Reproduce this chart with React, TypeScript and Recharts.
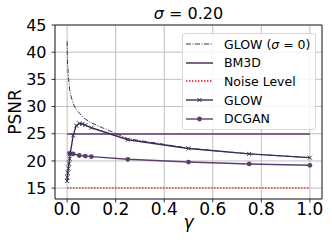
import React from "react";
import {
  LineChart,
  Line,
  XAxis,
  YAxis,
  CartesianGrid,
  ReferenceArea,
  Legend,
  Label,
} from "recharts";

// values
const gammaClean = [0, 0.001, 0.0025, 0.005, 0.0075, 0.01, 0.015, 0.025, 0.035, 0.05, 0.065, 0.075, 0.1, 0.15, 0.25, 0.5, 0.75, 1.0];
const psnrClean = [42.0, 39.5, 37.5, 35.8, 34.5, 33.2, 32.0, 30.6, 29.6, 28.8, 28.1, 27.7, 27.0, 26.0, 24.1, 22.35, 21.3, 20.6];

const gammaGlow = [0, 0.001, 0.0025, 0.005, 0.0075, 0.01, 0.0125, 0.025, 0.0375, 0.05, 0.0625, 0.075, 0.1, 0.25, 0.5, 0.75, 1.0];
const psnrGlow = [16.3, 17.0, 17.8, 18.6, 19.5, 20.4, 21.3, 24.7, 26.5, 26.9, 26.8, 26.6, 26.1, 23.9, 22.3, 21.3, 20.6];

const gammaDcgan = [0.01, 0.025, 0.05, 0.075, 0.1, 0.25, 0.5, 0.75, 1.0];
const psnrDcgan = [21.4, 21.3, 21.0, 20.9, 20.8, 20.3, 19.8, 19.45, 19.2];

const gammaEnds = [0, 1];
const bm3dPsnr = 24.95;
const noisePsnr = 15.05;

const xTicks = [0, 0.2, 0.4, 0.6, 0.8, 1.0];
const yTicks = [15, 20, 25, 30, 35, 40, 45];
const yMinorTicks = [13, 14, 16, 17, 18, 19, 21, 22, 23, 24, 26, 27, 28, 29, 31, 32, 33, 34, 36, 37, 38, 39, 41, 42, 43, 44];

const legendNames = ["clean", "bm3d", "noise", "glow", "dcgan"];

const toPoints = (xs: number[], ys: number[]) => xs.map((x, i) => ({ x, y: ys[i] }));
const cleanData = toPoints(gammaClean, psnrClean);
const glowData = toPoints(gammaGlow, psnrGlow);
const dcganData = toPoints(gammaDcgan, psnrDcgan);
const bm3dData = gammaEnds.map((x) => ({ x, y: bm3dPsnr }));
const noiseData = gammaEnds.map((x) => ({ x, y: noisePsnr }));

const FONT = "'DejaVu Sans', sans-serif";
const C_CLEAN = "#3b2f5e";
const C_BM3D = "#5d3a6e";
const C_GLOW = "#3a2e4e";
const C_DCGAN = "#5b3f6c";
const C_NOISE = "#ff0000";

const CrossDot = (props: any) => {
  const { cx, cy } = props;
  if (cx == null || cy == null) return null;
  const s = 2;
  return (
    <path
      key={`x-${cx}-${cy}`}
      d={`M${cx - s},${cy - s}L${cx + s},${cy + s}M${cx - s},${cy + s}L${cx + s},${cy - s}`}
      stroke={C_GLOW}
      strokeWidth={1}
      fill="none"
    />
  );
};

const sample = (name: string) => {
  switch (name) {
    case "clean":
      return <line x1={0} x2={27} y1={5} y2={5} stroke={C_CLEAN} strokeWidth={1} strokeDasharray="5 1.5 1 1.5" />;
    case "bm3d":
      return <line x1={0} x2={27} y1={5} y2={5} stroke={C_BM3D} strokeWidth={1.6} />;
    case "noise":
      return <line x1={0} x2={27} y1={5} y2={5} stroke={C_NOISE} strokeWidth={1.4} strokeDasharray="1.4 1.6" />;
    case "glow":
      return (
        <g>
          <line x1={0} x2={27} y1={5} y2={5} stroke={C_GLOW} strokeWidth={1.4} />
          <path d="M11.5,3L15.5,7M11.5,7L15.5,3" stroke={C_GLOW} strokeWidth={1} />
        </g>
      );
    default:
      return (
        <g>
          <line x1={0} x2={27} y1={5} y2={5} stroke={C_DCGAN} strokeWidth={1.4} />
          <circle cx={13.5} cy={5} r={2.4} fill={C_DCGAN} />
        </g>
      );
  }
};

const labelFor = (name: string) => {
  switch (name) {
    case "clean":
      return (
        <>
          GLOW (<i>σ</i> = 0)
        </>
      );
    case "bm3d":
      return "BM3D";
    case "noise":
      return "Noise Level";
    case "glow":
      return "GLOW";
    default:
      return "DCGAN";
  }
};

const LegendBox = () => (
  <div
    style={{
      width: 134,
      height: 97,
      boxSizing: "border-box",
      border: "1px solid #d8d8d8",
      borderRadius: 3,
      background: "rgba(255,255,255,0.85)",
      fontFamily: FONT,
      fontSize: 12.5,
      color: "#000",
      paddingTop: 1,
    }}
  >
    {legendNames.map((name) => (
      <div key={name} style={{ display: "flex", alignItems: "center", height: 18.6 }}>
        <svg width={28} height={10} style={{ marginLeft: 3, flex: "none" }}>
          {sample(name)}
        </svg>
        <span style={{ marginLeft: 10, whiteSpace: "nowrap" }}>{labelFor(name)}</span>
      </div>
    ))}
  </div>
);

export default function App() {
  return (
    <div style={{ position: "absolute", left: 0, top: 0, width: 332, height: 249, background: "#fff" }}>
      <div
        style={{
          position: "absolute",
          left: 55,
          width: 267,
          top: 4,
          textAlign: "center",
          fontFamily: FONT,
          fontSize: 16,
          lineHeight: "19px",
          color: "#000",
        }}
      >
        <i>σ</i> = 0.20
      </div>
      <LineChart width={332} height={249} margin={{ top: 25, right: 10, bottom: 20, left: 0 }}>
        <CartesianGrid stroke="#b0b0b0" strokeWidth={0.8} />
        <YAxis
          yAxisId="minor"
          orientation="left"
          width={0}
          type="number"
          domain={[13, 45]}
          ticks={yMinorTicks}
          interval={0}
          tick={false}
          tickSize={2}
          axisLine={false}
          tickLine={{ stroke: "#000", strokeWidth: 0.6 }}
        />
        <XAxis
          dataKey="x"
          type="number"
          domain={[-0.05, 1.05]}
          ticks={xTicks}
          interval={0}
          allowDataOverflow
          height={30}
          tickSize={3.5}
          tickMargin={0}
          tickFormatter={(v: number) => v.toFixed(1)}
          tick={{ fill: "#000", fontSize: 17, fontFamily: FONT }}
          tickLine={{ stroke: "#000", strokeWidth: 0.8 }}
          axisLine={false}
        >
          <Label
            content={({ viewBox }: any) => (
              <text
                x={viewBox.x + viewBox.width / 2}
                y={viewBox.y + 29}
                textAnchor="middle"
                fontFamily={FONT}
                fontSize={17}
                fontStyle="italic"
                fill="#000"
              >
                γ
              </text>
            )}
          />
        </XAxis>
        <YAxis
          type="number"
          domain={[13, 45]}
          ticks={yTicks}
          interval={0}
          allowDataOverflow
          width={55}
          tickSize={3.5}
          tickMargin={5}
          tick={{ fill: "#000", fontSize: 16, fontFamily: FONT }}
          tickLine={{ stroke: "#000", strokeWidth: 0.8 }}
          axisLine={false}
        >
          <Label
            content={({ viewBox }: any) => {
              const cx = 15;
              const cy = viewBox.y + viewBox.height / 2;
              return (
                <text
                  x={cx}
                  y={cy}
                  transform={`rotate(-90 ${cx} ${cy})`}
                  textAnchor="middle"
                  dominantBaseline="central"
                  fontFamily={FONT}
                  fontSize={17}
                  fill="#000"
                >
                  PSNR
                </text>
              );
            }}
          />
        </YAxis>
        <Line data={noiseData} dataKey="y" name="Noise Level" stroke={C_NOISE} strokeWidth={1.4} strokeDasharray="1.4 1.6" dot={false} isAnimationActive={false} />
        <Line data={bm3dData} dataKey="y" name="BM3D" stroke={C_BM3D} strokeWidth={1.6} dot={false} isAnimationActive={false} />
        <Line data={dcganData} dataKey="y" name="DCGAN" stroke={C_DCGAN} strokeWidth={1.4} dot={{ r: 2.4, fill: C_DCGAN, stroke: "none" }} isAnimationActive={false} />
        <Line data={glowData} dataKey="y" name="GLOW" stroke={C_GLOW} strokeWidth={1.4} dot={<CrossDot />} isAnimationActive={false} />
        <Line data={cleanData} dataKey="y" name="GLOW (σ = 0)" stroke={C_CLEAN} strokeWidth={1} strokeDasharray="5 1.5 1 1.5" dot={false} isAnimationActive={false} />
        <ReferenceArea x1={-0.05} x2={1.05} y1={13} y2={45} fill="none" stroke="#000" strokeWidth={0.8} ifOverflow="visible" />
        <Legend
          layout="horizontal"
          verticalAlign="middle"
          align="center"
          content={() => <LegendBox />}
          wrapperStyle={{ left: 182, top: 33, width: 134, height: 97 }}
        />
      </LineChart>
    </div>
  );
}
